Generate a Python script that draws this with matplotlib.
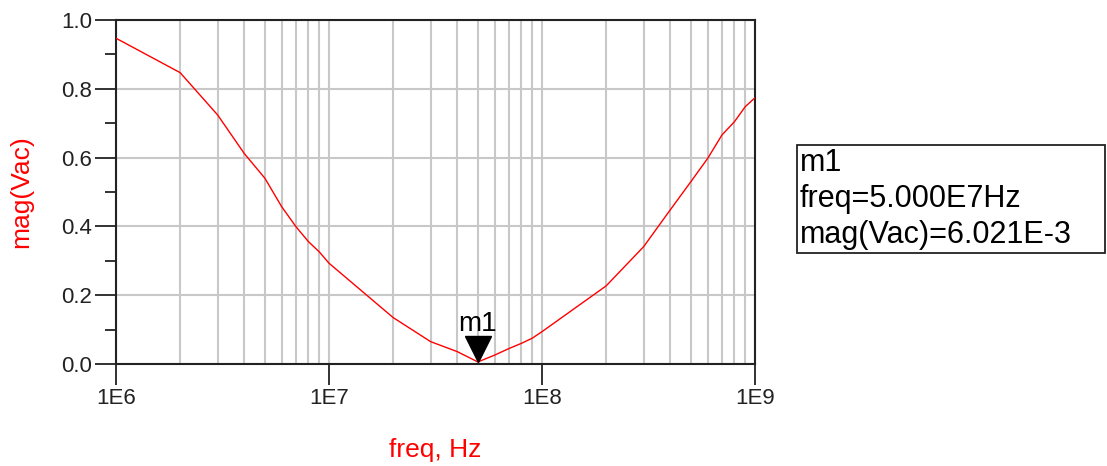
import numpy as np
import matplotlib
matplotlib.use("Agg")
import matplotlib.pyplot as plt
from matplotlib.patches import Rectangle
from matplotlib.transforms import offset_copy
from matplotlib.ticker import FixedLocator, LogLocator, NullFormatter, FuncFormatter

# data (1,2..9 per decade)
freq = [1e6, 2e6, 3e6, 4e6, 5e6, 6e6, 7e6, 8e6, 9e6,
        1e7, 2e7, 3e7, 4e7, 5e7, 6e7, 7e7, 8e7, 9e7,
        1e8, 2e8, 3e8, 4e8, 5e8, 6e8, 7e8, 8e8, 9e8, 1e9]
mag = [0.947, 0.847, 0.724, 0.612, 0.540, 0.457, 0.399, 0.356, 0.326,
       0.293, 0.135, 0.065, 0.036, 0.006, 0.026, 0.045, 0.060, 0.075,
       0.094, 0.227, 0.341, 0.448, 0.530, 0.598, 0.666, 0.704, 0.748, 0.774]
m1_freq = 5.0e7
m1_mag = 6.021e-3
x_ticks = [1e6, 1e7, 1e8, 1e9]
x_tick_labels = ["1E6", "1E7", "1E8", "1E9"]
readout = ["m1", "freq=5.000E7Hz", "mag(Vac)=6.021E-3"]

plt.rcParams['font.family'] = ['Liberation Sans', 'DejaVu Sans']

W, H = 1107, 466
fig = plt.figure(figsize=(W / 100, H / 100), dpi=100)
ax = fig.add_axes([116/W, 1-364/H, (755-116)/W, (364-20)/H])

ax.plot(freq, mag, color='#ff0000', linewidth=1.0, zorder=3)

ax.set_xscale('log')
ax.set_xlim(1e6, 1e9)
ax.set_ylim(0, 1.0)

ax.xaxis.set_major_locator(FixedLocator(x_ticks))
ax.xaxis.set_major_formatter(FuncFormatter(lambda v, p: x_tick_labels[x_ticks.index(v)] if v in x_ticks else ""))
ax.xaxis.set_minor_locator(LogLocator(base=10, subs=np.arange(2, 10)))
ax.xaxis.set_minor_formatter(NullFormatter())
ax.set_yticks(np.arange(0, 1.01, 0.2))
ax.set_yticks(np.arange(0.1, 1.0, 0.2), minor=True)
ax.yaxis.set_major_formatter(FuncFormatter(lambda v, p: f"{v:.1f}"))

ax.tick_params(axis='both', which='major', direction='out', length=15, width=1.3,
               labelsize=16, colors='#222222', pad=2)
ax.tick_params(axis='y', which='minor', direction='out', length=8, width=1.3, color='#222222')
ax.tick_params(axis='x', which='minor', length=0)

ax.grid(True, which='major', axis='y', color='#c8c8c8', linewidth=1.5)
ax.grid(True, which='both', axis='x', color='#c8c8c8', linewidth=1.5)
ax.set_axisbelow(True)

for s in ax.spines.values():
    s.set_linewidth(1.5)
    s.set_color('#222222')

ax.set_xlabel("freq, Hz", color='#ff0000', fontsize=19, labelpad=21)
ax.set_ylabel("mag(Vac)", color='#ff0000', fontsize=19, labelpad=20)

# marker m1: triangle with its tip on the curve
tri_tr = offset_copy(ax.transData, fig=fig, x=0, y=13, units='dots')
ax.plot([m1_freq], [m1_mag], marker='v', markersize=19, color='black',
        linestyle='none', zorder=4, transform=tri_tr, clip_on=False)
ax.annotate("m1", xy=(m1_freq, m1_mag), xytext=(0, 22), textcoords='offset points',
            ha='center', va='baseline', fontsize=20, color='black', zorder=5)

# marker readout box
fig.patches.append(Rectangle((797/W, 1-253/H), (1105-797)/W, (253-145)/H,
                             transform=fig.transFigure, facecolor='white',
                             edgecolor='#222222', linewidth=1.3))
for i, line in enumerate(readout):
    fig.text(800/W, 1-(163 + 36*i)/H, line, ha='left', va='center',
             fontsize=22, color='black')

fig.savefig("out.png", dpi=100)
